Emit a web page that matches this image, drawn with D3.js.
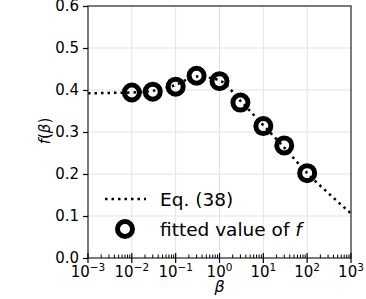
<!DOCTYPE html>
<html>
<head>
<meta charset="utf-8">
<script src="https://cdn.jsdelivr.net/npm/d3@7"></script>
<style>
  body { margin: 0; background: white; }
  svg text { font-family: "DejaVu Sans", sans-serif; fill: #000; }
</style>
</head>
<body>
<div id="chart"></div>
<script>
// Eq. (38) curve
const eqBeta = [0.001, 0.003, 0.01, 0.03, 0.1, 0.3, 1, 3, 10, 30, 100, 300, 1000];
const eqF    = [0.392, 0.393, 0.394, 0.398, 0.412, 0.432, 0.423, 0.374, 0.316, 0.263, 0.202, 0.155, 0.106];

// fitted values of f
const fitBeta = [0.01, 0.03, 0.1, 0.3, 1, 3, 10, 30, 100];
const fitF    = [0.394, 0.396, 0.408, 0.434, 0.421, 0.370, 0.314, 0.268, 0.202];

const yTicks = [0.0, 0.1, 0.2, 0.3, 0.4, 0.5, 0.6];
const xExps = [-3, -2, -1, 0, 1, 2, 3];

const W = 366, H = 299;
const margin = { top: 6, right: 15, bottom: 41, left: 88 },
      width = W - margin.left - margin.right,
      height = H - margin.top - margin.bottom;

const svg = d3.select("#chart")
    .append("svg")
    .attr("width", W)
    .attr("height", H)
    .style("background-color", "white");

const g = svg.append("g")
    .attr("transform", `translate(${margin.left},${margin.top})`);

// Scales
const x = d3.scaleLog().domain([1e-3, 1e3]).range([0, width]);
const y = d3.scaleLinear().domain([0, 0.6]).range([height, 0]);

// Grid
g.append("g").selectAll("line")
    .data(xExps.slice(1, -1))
    .join("line")
    .attr("x1", d => x(Math.pow(10, d))).attr("x2", d => x(Math.pow(10, d)))
    .attr("y1", 0).attr("y2", height)
    .attr("stroke", "#e3e3e3").attr("stroke-width", 1);
g.append("g").selectAll("line")
    .data(yTicks.slice(1, -1))
    .join("line")
    .attr("x1", 0).attr("x2", width)
    .attr("y1", d => y(d)).attr("y2", d => y(d))
    .attr("stroke", "#e3e3e3").attr("stroke-width", 1);

// Eq line
const line = d3.line()
    .x((d, i) => x(eqBeta[i]))
    .y(d => y(d))
    .curve(d3.curveMonotoneX);

g.append("path")
    .datum(eqF)
    .attr("fill", "none")
    .attr("stroke", "#000")
    .attr("stroke-width", 2.5)
    .attr("stroke-dasharray", "2.5,4")
    .attr("d", line);

// Markers
g.selectAll("circle.fit")
    .data(fitF)
    .join("circle")
    .attr("class", "fit")
    .attr("cx", (d, i) => x(fitBeta[i]))
    .attr("cy", d => y(d))
    .attr("r", 7.5)
    .attr("fill", "none")
    .attr("stroke", "#000")
    .attr("stroke-width", 5);

// Frame
g.append("rect")
    .attr("width", width).attr("height", height)
    .attr("fill", "none")
    .attr("stroke", "#333")
    .attr("stroke-width", 1.3);

// Y axis
const yAxis = g.append("g")
    .call(d3.axisLeft(y).tickValues(yTicks).tickFormat(d3.format(".1f")).tickSize(5).tickPadding(4));
yAxis.select(".domain").remove();
yAxis.selectAll("line").attr("stroke", "#000").attr("stroke-width", 1.2);
yAxis.selectAll("text").style("font-size", "15px").style("font-family", "DejaVu Sans, sans-serif");

// X axis: major ticks cross the spine, minor ticks inward
const xAxis = g.append("g").attr("transform", `translate(0,${height})`);
const minors = [];
xExps.slice(0, -1).forEach(e => {
    for (let k = 2; k <= 9; k++) minors.push(k * Math.pow(10, e));
});
xAxis.selectAll("line.minor")
    .data(minors)
    .join("line")
    .attr("class", "minor")
    .attr("x1", d => x(d)).attr("x2", d => x(d))
    .attr("y1", 0).attr("y2", -3.5)
    .attr("stroke", "#000").attr("stroke-width", 1);
xAxis.selectAll("line.major")
    .data(xExps)
    .join("line")
    .attr("class", "major")
    .attr("x1", d => x(Math.pow(10, d))).attr("x2", d => x(Math.pow(10, d)))
    .attr("y1", -5).attr("y2", 5)
    .attr("stroke", "#000").attr("stroke-width", 1.2);

const xl = xAxis.selectAll("text.xt")
    .data(xExps)
    .join("text")
    .attr("class", "xt")
    .attr("x", d => x(Math.pow(10, d)))
    .attr("y", 19)
    .attr("text-anchor", "middle")
    .style("font-size", "15px");
xl.append("tspan").text("10");
xl.append("tspan")
    .attr("dy", -6)
    .style("font-size", "10.5px")
    .text(d => d < 0 ? "\u2212" + (-d) : d);

// Axis labels
svg.append("text")
    .attr("x", margin.left + width / 2)
    .attr("y", 292)
    .attr("text-anchor", "middle")
    .style("font-size", "16px")
    .style("font-style", "italic")
    .text("\u03b2");

svg.append("text")
    .attr("transform", `translate(50,131) rotate(-90)`)
    .attr("text-anchor", "middle")
    .style("font-size", "15px")
    .html('<tspan font-style="italic">f</tspan>(<tspan font-style="italic">\u03b2</tspan>)');

// Legend
const leg = svg.append("g");
leg.append("line")
    .attr("x1", 105).attr("x2", 146)
    .attr("y1", 199).attr("y2", 199)
    .attr("stroke", "#000")
    .attr("stroke-width", 2.5)
    .attr("stroke-dasharray", "2.5,4");
leg.append("text")
    .attr("x", 160).attr("y", 206)
    .style("font-size", "18.5px")
    .text("Eq. (38)");
leg.append("circle")
    .attr("cx", 125).attr("cy", 229)
    .attr("r", 7.5)
    .attr("fill", "none")
    .attr("stroke", "#000")
    .attr("stroke-width", 5);
leg.append("text")
    .attr("x", 160).attr("y", 236)
    .style("font-size", "18.5px")
    .html('fitted value of <tspan font-style="italic">f</tspan>');
</script>
</body>
</html>
